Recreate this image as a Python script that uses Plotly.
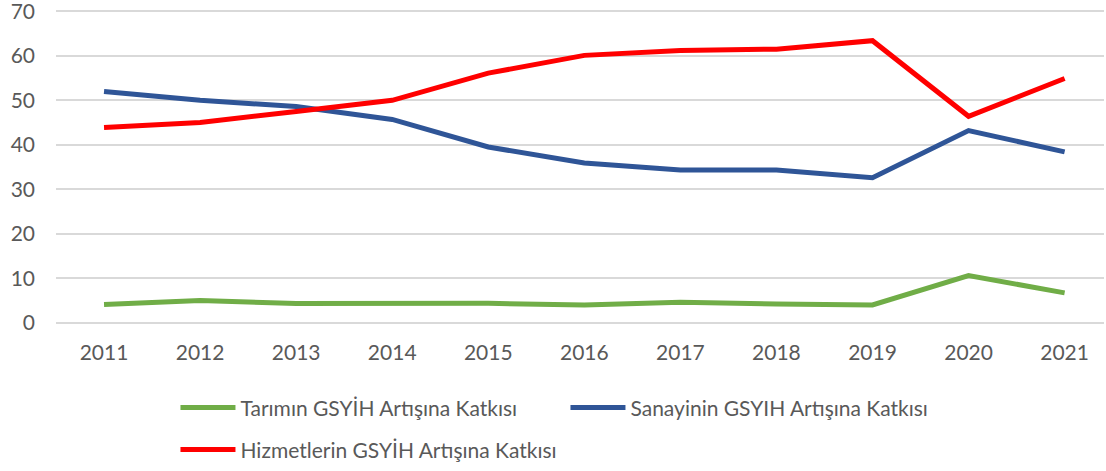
import plotly.graph_objects as go

years = [2011, 2012, 2013, 2014, 2015, 2016, 2017, 2018, 2019, 2020, 2021]
tarim = [4.1, 5.0, 4.3, 4.4, 4.35, 4.0, 4.6, 4.2, 4.0, 10.6, 6.7]
sanayi = [52.0, 50.0, 48.6, 45.7, 39.5, 35.9, 34.3, 34.3, 32.6, 43.2, 38.4]
hizmet = [43.9, 45.0, 47.5, 50.0, 56.1, 60.1, 61.2, 61.5, 63.4, 46.4, 54.9]
y_ticks = [0, 10, 20, 30, 40, 50, 60, 70]

names = ["Tarımın GSYİH Artışına Katkısı",
         "Sanayinin GSYIH Artışına Katkısı",
         "Hizmetlerin GSYİH Artışına Katkısı"]
colors = ["#70ad47", "#2f5597", "#ff0000"]
series = [tarim, sanayi, hizmet]
legends = ["legend", "legend", "legend2"]

fig = go.Figure()
for name, vals, col, lg in zip(names, series, colors, legends):
    fig.add_trace(go.Scatter(
        x=years, y=vals, mode="lines", name=name, legend=lg,
        line=dict(color=col, width=5),
    ))

txt = dict(family="Lato, 'Open Sans', sans-serif", size=21, color="#595959")

fig.update_layout(
    width=1106, height=471,
    margin=dict(l=56, r=2, t=10, b=147, autoexpand=False),
    paper_bgcolor="white", plot_bgcolor="white",
    font=txt,
    xaxis=dict(
        range=[2010.5, 2021.41], tickmode="array", tickvals=years,
        ticktext=[str(y) for y in years], showgrid=False, zeroline=False,
        showline=False, ticks="", ticklabelstandoff=14, tickfont=txt,
        automargin=False,
    ),
    yaxis=dict(
        range=[-0.3, 70.3], tickmode="array", tickvals=y_ticks,
        ticktext=[str(v) for v in y_ticks],
        showgrid=True, gridcolor="#d9d9d9", gridwidth=1.5,
        zeroline=False, showline=False, ticks="", ticklabelstandoff=20,
        ticklabeloverflow="allow", tickfont=txt, automargin=False,
    ),
    legend=dict(
        orientation="h", x=0.114, xanchor="left",
        y=0.134, yref="container", yanchor="middle",
        entrywidth=320, itemwidth=55, font=txt, bgcolor="rgba(0,0,0,0)",
    ),
    legend2=dict(
        orientation="h", x=0.114, xanchor="left",
        y=0.045, yref="container", yanchor="middle",
        itemwidth=55, font=txt, bgcolor="rgba(0,0,0,0)",
    ),
    showlegend=True,
)

fig.write_html("out.html")
